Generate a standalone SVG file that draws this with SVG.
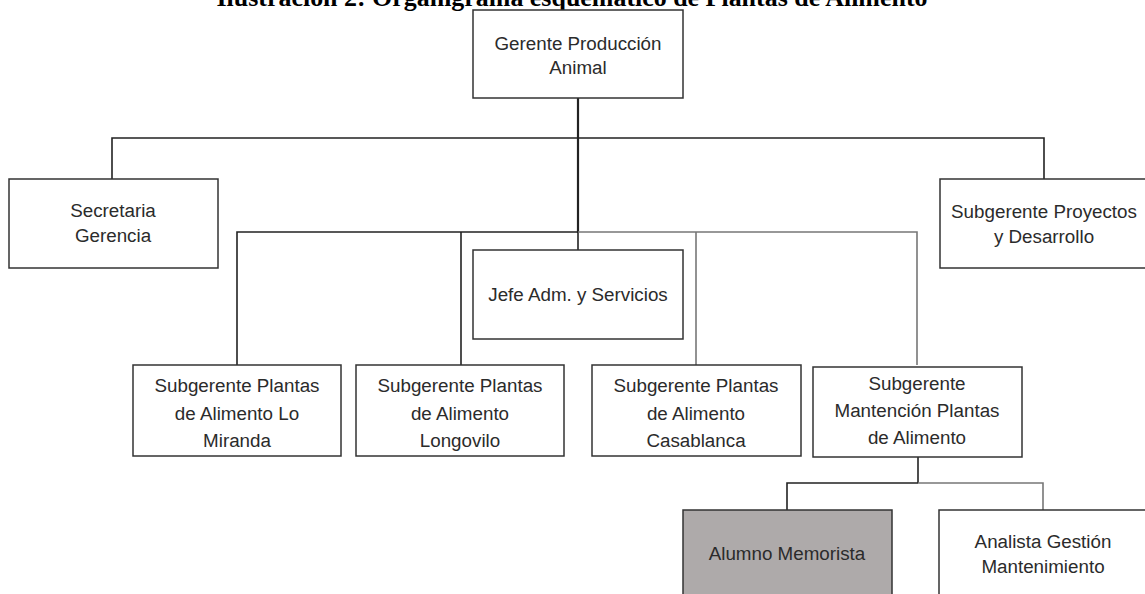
<svg xmlns="http://www.w3.org/2000/svg" width="1145" height="594" viewBox="0 0 1145 594">
<style>
.box{fill:#fff;stroke:#333;stroke-width:1.5}
.gray{fill:#aeaaaa}
.t{font-family:"Liberation Sans",Arial,sans-serif;font-size:18.8px;fill:#2b2b2b;text-anchor:middle}
.title{font-family:"Liberation Serif","Times New Roman",serif;font-size:26px;font-weight:bold;fill:#000;text-anchor:middle}
.k{stroke:#222;stroke-width:1.6;fill:none}
.g{stroke:#777;stroke-width:1.6;fill:none}
</style>
<rect width="1145" height="594" fill="#fff"/>
<text class="title" x="572" y="6" textLength="711" lengthAdjust="spacingAndGlyphs">Ilustración 2: Organigrama esquemático de Plantas de Alimento</text>
<g id="connectors">
<path class="k" d="M578 98V233" style="stroke-width:2.2"/>
<path class="k" d="M112 179V138H1044V179"/>
<path class="k" d="M237 365V232H578"/>
<path class="k" d="M461 232V365"/>
<path class="k" d="M578 232V250"/>
<path class="g" d="M578 232H917V365"/>
<path class="g" d="M696 232V365"/>
<path class="k" d="M918 456V483"/>
<path class="k" d="M787 510V483H918"/>
<path class="g" d="M918 483H1043V510"/>
</g>
<g id="n-gerente"><rect class="box" x="473" y="10" width="210" height="88"/><text class="t" x="578" y="50">Gerente Producción</text><text class="t" x="578" y="74">Animal</text></g>
<g id="n-secretaria"><rect class="box" x="9" y="179" width="209" height="89"/><text class="t" x="113" y="217">Secretaria</text><text class="t" x="113" y="242">Gerencia</text></g>
<g id="n-proyectos"><rect class="box" x="940" y="179" width="210" height="89"/><text class="t" x="1044" y="218">Subgerente Proyectos</text><text class="t" x="1044" y="243">y Desarrollo</text></g>
<g id="n-jefe"><rect class="box" x="473" y="250" width="210" height="89"/><text class="t" x="578" y="301">Jefe Adm. y Servicios</text></g>
<g id="n-miranda"><rect class="box" x="133" y="365" width="208" height="91"/><text class="t" x="237" y="392">Subgerente Plantas</text><text class="t" x="237" y="420">de Alimento Lo</text><text class="t" x="237" y="447">Miranda</text></g>
<g id="n-longovilo"><rect class="box" x="356" y="365" width="208" height="91"/><text class="t" x="460" y="392">Subgerente Plantas</text><text class="t" x="460" y="420">de Alimento</text><text class="t" x="460" y="447">Longovilo</text></g>
<g id="n-casablanca"><rect class="box" x="592" y="365" width="209" height="91"/><text class="t" x="696" y="392">Subgerente Plantas</text><text class="t" x="696" y="420">de Alimento</text><text class="t" x="696" y="447">Casablanca</text></g>
<g id="n-mantencion"><rect class="box" x="813" y="367" width="209" height="90"/><text class="t" x="917" y="390">Subgerente</text><text class="t" x="917" y="417">Mantención Plantas</text><text class="t" x="917" y="444">de Alimento</text></g>
<g id="n-alumno"><rect class="box gray" x="683" y="510" width="209" height="100"/><text class="t" x="787" y="560">Alumno Memorista</text></g>
<g id="n-analista"><rect class="box" x="939" y="510" width="209" height="100"/><text class="t" x="1043" y="548">Analista Gestión</text><text class="t" x="1043" y="573">Mantenimiento</text></g>
</svg>
